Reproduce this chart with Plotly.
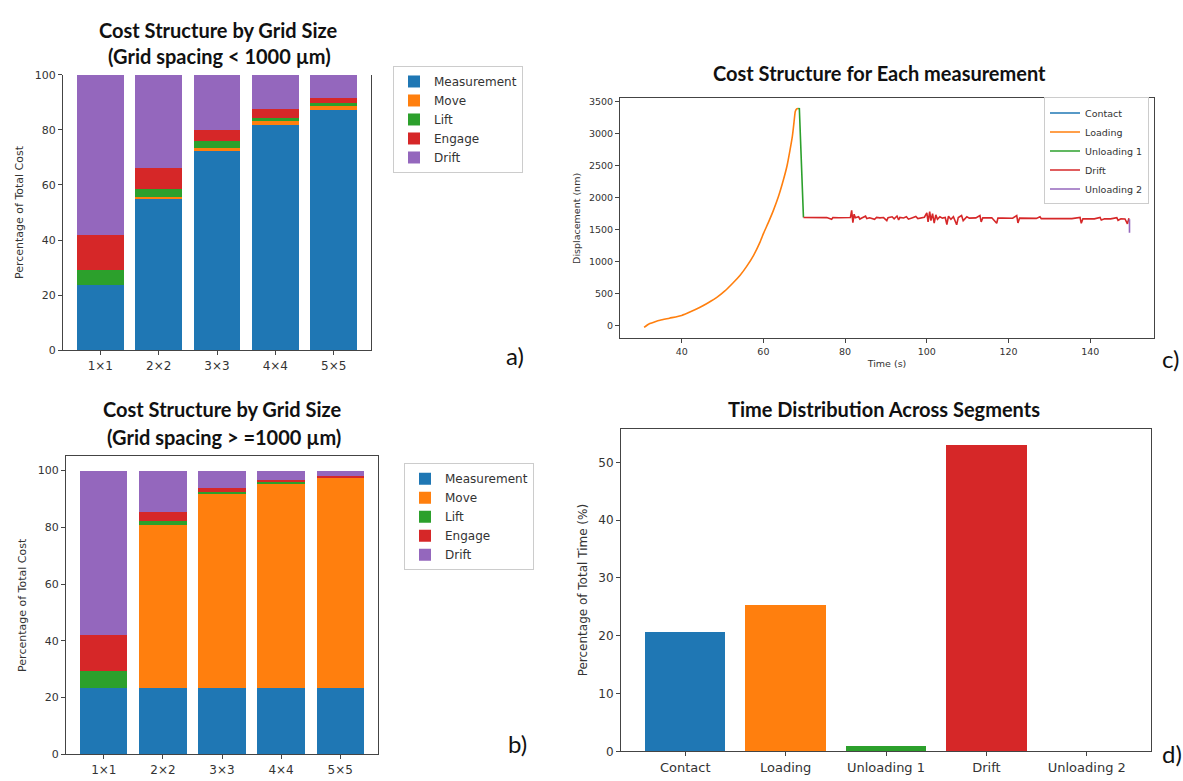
import plotly.graph_objects as go

W, H = 1183, 781

# ---------------- data ----------------
grid_labels = ["1×1", "2×2", "3×3", "4×4", "5×5"]
cost_series = ["Measurement", "Move", "Lift", "Engage", "Drift"]
colors = ["#1f77b4", "#ff7f0e", "#2ca02c", "#d62728", "#9467bd"]

# panel a: grid spacing < 1000 um
a_measurement = [23.6, 54.8, 72.4, 81.8, 87.3]
a_move = [0.0, 0.8, 1.2, 1.3, 1.5]
a_lift = [5.6, 3.1, 2.2, 1.4, 1.1]
a_engage = [12.8, 7.4, 4.3, 3.1, 1.6]
a_drift = [58.0, 33.9, 19.9, 12.4, 8.5]

# panel b: grid spacing >= 1000 um
b_measurement = [23.5, 23.5, 23.5, 23.5, 23.5]
b_move = [0.0, 57.4, 68.2, 71.9, 73.8]
b_lift = [5.8, 1.4, 0.8, 0.5, 0.2]
b_engage = [12.8, 3.2, 1.4, 0.6, 0.5]
b_drift = [57.9, 14.5, 6.1, 3.5, 2.0]

# panel c: displacement vs time
contact_t = [30.8]
contact_y = [-25]
loading_t = [30.8, 31.5, 32.2, 33.5, 34.7, 37.0, 40.0, 42.0, 44.5, 46.5, 48.6, 50.5,
             52.6, 54.3, 55.9, 57.6, 59.2, 60.0, 61.2, 62.4, 63.7, 64.9, 65.8, 66.5,
             67.1, 67.5, 67.8, 68.1, 68.5]
loading_y = [-25, 10, 36, 65, 87, 120, 163, 215, 290, 360, 443, 540,
             672, 790, 927, 1100, 1309, 1437, 1610, 1793, 2020, 2277, 2500, 2736,
             2960, 3180, 3340, 3380, 3388]
unload1_t = [68.5, 68.8, 69.8]
unload1_y = [3388, 3385, 1691]
drift_t = [69.8, 71.0, 72.5, 74.0, 75.5, 76.7, 77.0, 78.5, 80.0, 81.3, 81.6, 81.9,
           82.2, 82.5, 83.3, 83.6, 84.2, 85.0, 85.3, 86.0, 87.2, 87.7, 88.5, 89.4,
           90.2, 90.5, 91.5, 92.0, 92.7, 93.1, 93.4, 94.3, 95.0, 95.5, 96.5, 97.3,
           97.8, 98.6, 99.4, 100.0, 100.3, 100.7, 101.0, 101.4, 101.8, 102.2, 102.6, 103.2,
           103.8, 104.5, 104.9, 105.3, 105.9, 106.5, 107.3, 107.7, 108.5, 108.9, 109.8, 110.4,
           111.2, 112.0, 113.0, 113.3, 113.7, 114.8, 115.9, 117.1, 117.4, 118.5, 119.7, 121.0,
           122.0, 122.3, 122.7, 124.0, 125.5, 126.8, 127.7, 128.0, 129.5, 131.0, 132.5, 134.0,
           135.5, 137.5, 137.8, 138.2, 139.5, 141.0, 142.4, 142.7, 143.5, 145.0, 146.5, 146.8,
           147.5, 148.5, 149.1, 149.4, 149.6]
drift_y = [1690, 1688, 1689, 1687, 1688, 1660, 1688, 1686, 1687, 1690, 1800, 1610,
           1740, 1685, 1700, 1665, 1686, 1710, 1672, 1685, 1660, 1690, 1684, 1688,
           1640, 1686, 1700, 1668, 1712, 1650, 1690, 1682, 1700, 1663, 1686, 1705,
           1672, 1688, 1693, 1760, 1620, 1780, 1640, 1750, 1600, 1730, 1660, 1700,
           1680, 1690, 1580, 1710, 1660, 1700, 1575, 1690, 1720, 1640, 1700, 1680,
           1686, 1683, 1720, 1620, 1685, 1680, 1684, 1600, 1682, 1680, 1684, 1678,
           1720, 1605, 1680, 1676, 1678, 1675, 1700, 1672, 1674, 1676, 1672, 1674,
           1672, 1690, 1600, 1670, 1672, 1668, 1690, 1650, 1670, 1668, 1685, 1645,
           1668, 1666, 1590, 1665, 1660]
unload2_t = [149.6, 149.6]
unload2_y = [1660, 1450]

# panel d: time distribution
segments = ["Contact", "Loading", "Unloading 1", "Drift", "Unloading 2"]
segment_pct = [20.7, 25.3, 0.95, 53.0, 0.05]

# ---------------- figure ----------------
fig = go.Figure()

a_vals = [a_measurement, a_move, a_lift, a_engage, a_drift]
b_vals = [b_measurement, b_move, b_lift, b_engage, b_drift]
for name, col, v in zip(cost_series, colors, a_vals):
    fig.add_trace(go.Bar(x=grid_labels, y=v, name=name, marker=dict(color=col, line=dict(width=0)),
                         width=0.8, xaxis="x", yaxis="y", legend="legend"))
for name, col, v in zip(cost_series, colors, b_vals):
    fig.add_trace(go.Bar(x=grid_labels, y=v, name=name, marker=dict(color=col, line=dict(width=0)),
                         width=0.8, xaxis="x2", yaxis="y2", legend="legend2"))

line_sets = [("Contact", contact_t, contact_y), ("Loading", loading_t, loading_y),
             ("Unloading 1", unload1_t, unload1_y), ("Drift", drift_t, drift_y),
             ("Unloading 2", unload2_t, unload2_y)]
for (name, t, y), col in zip(line_sets, colors):
    shape = "spline" if name == "Loading" else "linear"
    fig.add_trace(go.Scatter(x=t, y=y, name=name, mode="lines",
                             line=dict(color=col, width=1.6, shape=shape, smoothing=0.5),
                             xaxis="x3", yaxis="y3", legend="legend3"))

fig.add_trace(go.Bar(x=segments, y=segment_pct, marker=dict(color=colors, line=dict(width=0)),
                     width=0.8, xaxis="x4", yaxis="y4", showlegend=False))

def px_x(p):
    return p / W

def px_y(p):
    return 1 - p / H

axis_common = dict(showline=True, linecolor="#444", linewidth=1, ticks="outside", ticklen=4,
                   tickcolor="#444", showgrid=False, zeroline=False,
                   tickfont=dict(family="DejaVu Sans", size=11, color="#333"))

fig.update_layout(
    width=W, height=H, margin=dict(l=0, r=0, t=0, b=0),
    paper_bgcolor="white", plot_bgcolor="white", barmode="stack", bargap=0.2,
    font=dict(family="DejaVu Sans", color="#333"),
    xaxis=dict(axis_common, domain=[px_x(63), px_x(371)], anchor="y", range=[-0.64, 4.64],
               tickfont=dict(family="DejaVu Sans", size=12, color="#333")),
    yaxis=dict(axis_common, domain=[px_y(350), px_y(70)], anchor="x", range=[0, 100], dtick=20,
               mirror=True,
               title=dict(text="Percentage of Total Cost", font=dict(size=11, color="#333"), standoff=8)),
    xaxis2=dict(axis_common, domain=[px_x(66), px_x(378)], anchor="y2", range=[-0.64, 4.64],
                mirror=True, tickfont=dict(family="DejaVu Sans", size=12, color="#333")),
    yaxis2=dict(axis_common, domain=[px_y(761), px_y(458)], anchor="x2", range=[0, 105],
                tickvals=[0, 20, 40, 60, 80, 100], mirror=True,
                title=dict(text="Percentage of Total Cost", font=dict(size=11, color="#333"), standoff=8)),
    xaxis3=dict(axis_common, domain=[px_x(620), px_x(1154)], anchor="y3", range=[24.9, 155.6],
                tickvals=[40, 60, 80, 100, 120, 140], mirror=True,
                tickfont=dict(family="DejaVu Sans", size=9.5, color="#333"),
                title=dict(text="Time (s)", font=dict(size=9.5, color="#333"), standoff=4)),
    yaxis3=dict(axis_common, domain=[px_y(338), px_y(94)], anchor="x3", range=[-195, 3545],
                dtick=500, mirror=True,
                tickfont=dict(family="DejaVu Sans", size=9.5, color="#333"),
                title=dict(text="Displacement (nm)", font=dict(size=9.5, color="#333"), standoff=6)),
    xaxis4=dict(axis_common, domain=[px_x(621), px_x(1151)], anchor="y4", range=[-0.64, 4.64],
                mirror=True, tickfont=dict(family="DejaVu Sans", size=13, color="#333")),
    yaxis4=dict(axis_common, domain=[px_y(758), px_y(430)], anchor="x4", range=[0, 55.8],
                dtick=10, mirror=True, tickfont=dict(family="DejaVu Sans", size=12, color="#333"),
                title=dict(text="Percentage of Total Time (%)", font=dict(size=12, color="#333"), standoff=8)),
    legend=dict(x=px_x(393), y=px_y(61), xanchor="left", yanchor="top", bgcolor="white",
                bordercolor="#ccc", borderwidth=1, font=dict(family="DejaVu Sans", size=12, color="#333"),
                traceorder="normal"),
    legend2=dict(x=px_x(404), y=px_y(465), xanchor="left", yanchor="top", bgcolor="white",
                 bordercolor="#ccc", borderwidth=1, font=dict(family="DejaVu Sans", size=12, color="#333"),
                 traceorder="normal"),
    legend3=dict(x=px_x(1149), y=px_y(93), xanchor="right", yanchor="top", bgcolor="white",
                 bordercolor="#ccc", borderwidth=1, font=dict(family="DejaVu Sans", size=9.5, color="#333"),
                 traceorder="normal", itemwidth=30),
)

title_font = dict(family="Lato", size=20, color="#111")
ann = [
    ("<b>Cost Structure by Grid Size</b>", 218, 24, title_font),
    ("<b>(Grid spacing < 1000 µm)</b>", 219, 51, title_font),
    ("<b>Cost Structure by Grid Size</b>", 222, 410, title_font),
    ("<b>(Grid spacing > =1000 µm)</b>", 224, 438, title_font),
    ("<b>Cost Structure for Each measurement</b>", 880, 68, title_font),
    ("<b>Time Distribution Across Segments</b>", 884, 410, title_font),
    ("a)", 515, 355, dict(family="Lato", size=24, color="#111")),
    ("b)", 517, 750, dict(family="Lato", size=24, color="#111")),
    ("c)", 1170, 358, dict(family="Lato", size=24, color="#111")),
    ("d)", 1172, 760, dict(family="Lato", size=24, color="#111")),
]
for text, x, y, f in ann:
    fig.add_annotation(text=text, x=px_x(x), y=px_y(y), xref="paper", yref="paper",
                       xanchor="center", yanchor="middle", showarrow=False, font=f)

fig.write_html("out.html")
